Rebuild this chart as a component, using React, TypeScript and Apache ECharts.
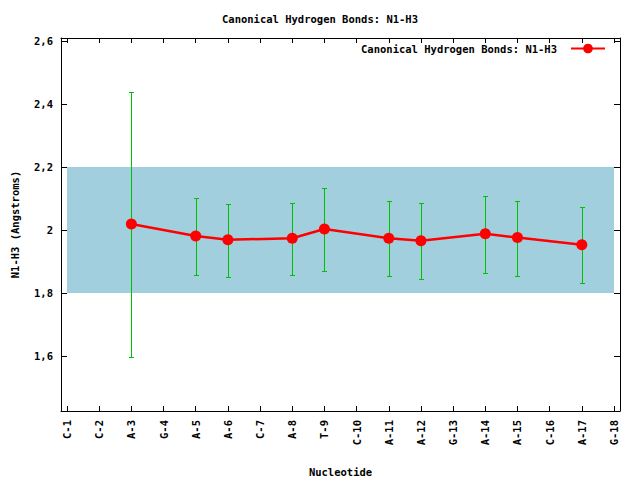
import React, { useEffect, useRef } from "react";
import * as echarts from "echarts";

const categories = [
  "C-1", "C-2", "A-3", "G-4", "A-5", "A-6", "C-7", "A-8", "T-9",
  "C-10", "A-11", "A-12", "G-13", "A-14", "A-15", "C-16", "A-17", "G-18",
];
const positions = [3, 5, 6, 8, 9, 11, 12, 14, 15, 17];
const means = [2.019, 1.981, 1.969, 1.974, 2.003, 1.974, 1.966, 1.988, 1.976, 1.953];
const lows = [1.597, 1.857, 1.85, 1.856, 1.87, 1.854, 1.845, 1.863, 1.854, 1.832];
const highs = [2.438, 2.102, 2.083, 2.086, 2.133, 2.093, 2.086, 2.108, 2.093, 2.074];
const yTicks = [1.6, 1.8, 2.0, 2.2, 2.4, 2.6];
const bandRange = [1.8, 2.2];
const bandX = [1, 18];
const seriesName = "Canonical Hydrogen Bonds: N1-H3";

const FONT = "DejaVu Sans Mono";

export default function App() {
  const ref = useRef<HTMLDivElement>(null);
  useEffect(() => {
    if (!ref.current) return;
    const chart = echarts.init(ref.current, null, { renderer: "svg" });
    const xTicks = categories.map((_, i) => i + 1);
    const textStyle = { fontFamily: FONT, fontSize: 10.5, fontWeight: "bold", color: "#000" };
    const xBase = {
      type: "value",
      min: 0.813,
      max: 18.187,
      splitLine: { show: false },
      axisLine: { show: true, lineStyle: { color: "#000", width: 1 } },
      axisTick: { show: true, inside: true, length: 5, customValues: xTicks, lineStyle: { color: "#000" } },
    };
    const yBase = {
      type: "value",
      min: 1.425,
      max: 2.61,
      splitLine: { show: false },
      axisLine: { show: true, lineStyle: { color: "#000", width: 1 } },
      axisTick: { show: true, inside: true, length: 6, customValues: yTicks, lineStyle: { color: "#000" } },
    };
    chart.setOption({
      animation: false,
      title: {
        text: seriesName,
        left: "center",
        top: 8,
        textStyle: { ...textStyle },
      },
      legend: {
        data: [seriesName],
        right: 29,
        top: 38,
        align: "right",
        itemWidth: 34,
        itemHeight: 12,
        textStyle: { ...textStyle, padding: [0, 9, 0, 0] },
      },
      grid: { left: 61, right: 20, top: 38, bottom: 69, outerBoundsMode: "none", containLabel: false },
      xAxis: [
        {
          ...xBase,
          position: "bottom",
          name: "Nucleotide",
          nameLocation: "middle",
          nameGap: 55,
          nameTextStyle: { ...textStyle },
          axisLabel: {
            customValues: xTicks,
            rotate: 90,
            margin: 9,
            ...textStyle,
            formatter: (v: number) => categories[Math.round(v) - 1] ?? "",
          },
        },
        { ...xBase, position: "top", axisLabel: { show: false } },
      ],
      yAxis: [
        {
          ...yBase,
          position: "left",
          name: "N1-H3 (Angstroms)",
          nameLocation: "middle",
          nameGap: 41,
          nameRotate: 90,
          nameTextStyle: { ...textStyle },
          axisLabel: {
            customValues: yTicks,
            margin: 8,
            ...textStyle,
            formatter: (v: number) => String(Math.round(v * 10) / 10).replace(".", ","),
          },
        },
        { ...yBase, position: "right", axisLabel: { show: false } },
      ],
      series: [
        {
          name: "band",
          type: "custom",
          silent: true,
          z: 1,
          data: [[bandX[0], bandX[1], bandRange[0], bandRange[1]]],
          encode: { x: [0, 1], y: [2, 3] },
          renderItem: (params: any, api: any) => {
            const p1 = api.coord([api.value(0), api.value(3)]);
            const p2 = api.coord([api.value(1), api.value(2)]);
            return {
              type: "rect",
              shape: { x: p1[0], y: p1[1], width: p2[0] - p1[0], height: p2[1] - p1[1] },
              style: { fill: "#a2cfde" },
            };
          },
        },
        {
          name: "errors",
          type: "custom",
          silent: true,
          z: 3,
          data: positions.map((p, i) => [p, lows[i], highs[i]]),
          encode: { x: 0, y: [1, 2] },
          renderItem: (params: any, api: any) => {
            const x = api.value(0);
            const lo = api.coord([x, api.value(1)]);
            const hi = api.coord([x, api.value(2)]);
            const cx = Math.round(lo[0]);
            const yl = Math.round(lo[1]);
            const yh = Math.round(hi[1]);
            const st = { fill: "#00c000" };
            return {
              type: "group",
              children: [
                { type: "rect", shape: { x: cx, y: yh, width: 1, height: yl - yh + 1 }, style: st },
                { type: "rect", shape: { x: cx - 2, y: yl, width: 5, height: 1 }, style: st },
                { type: "rect", shape: { x: cx - 2, y: yh, width: 5, height: 1 }, style: st },
              ],
            };
          },
        },
        {
          name: seriesName,
          type: "line",
          z: 4,
          data: positions.map((p, i) => [p, means[i]]),
          symbol: "circle",
          symbolSize: 11,
          itemStyle: { color: "#ff0000" },
          lineStyle: { color: "#ff0000", width: 2.5 },
        },
      ],
    });
    return () => chart.dispose();
  }, []);
  return <div ref={ref} style={{ width: 640, height: 480, position: "absolute", left: 0, top: 0 }} />;
}
